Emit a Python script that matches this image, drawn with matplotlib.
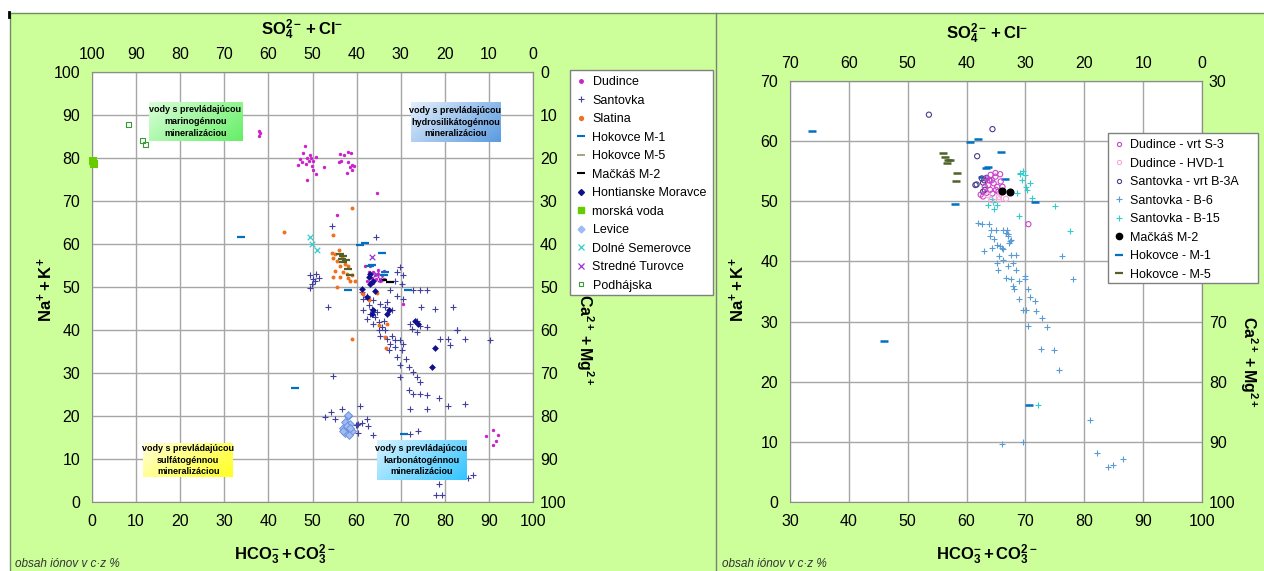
import numpy as np
import matplotlib.pyplot as plt
from matplotlib import font_manager
from matplotlib.colors import LinearSegmentedColormap
from matplotlib.lines import Line2D
from matplotlib.patches import Rectangle

# ---- left diagram: all localities, (HCO3+CO3 %, Na+K %) ----
dudince = [(37.9, 86.3), (38.1, 85.7), (37.9, 85.2), (48.2, 82.9), (47.9, 81.1), (49.4, 80.6),
           (48.7, 80.0), (47.2, 79.8), (46.8, 78.4), (47.6, 79.0), (50.2, 79.4), (50.8, 80.2),
           (49.8, 78.2), (50.0, 77.2), (50.8, 76.2), (48.8, 74.9), (52.5, 78.0), (49.1, 79.4),
           (49.6, 80.0), (48.5, 78.6), (56.2, 81.0), (57.1, 80.6), (58.1, 81.4), (58.7, 81.2),
           (55.9, 79.0), (56.4, 79.4), (58.1, 79.0), (58.9, 78.4), (58.5, 77.9), (59.3, 78.2),
           (57.9, 76.6), (58.9, 77.1), (64.7, 71.8), (55.5, 66.7),
           (61.9, 54.8), (63.0, 55.0), (62.7, 53.4), (63.8, 53.4), (64.9, 53.0), (65.7, 52.7),
           (64.5, 51.9), (63.4, 52.1), (62.3, 51.5), (65.3, 51.5), (63.8, 50.9), (66.1, 53.8),
           (64.2, 52.7), (63.0, 51.1), (64.9, 54.0), (66.3, 51.9), (70.6, 46.1),
           (89.3, 15.4), (90.9, 16.7), (92.0, 15.6), (91.6, 14.2), (91.0, 13.2)]
santovka = [(69.8, 54.6), (69.1, 53.4), (70.6, 52.7), (68.7, 51.5), (70.2, 50.7), (72.9, 49.2),
            (74.4, 49.2), (75.9, 49.2), (67.6, 49.2), (69.1, 48.0), (70.6, 47.3), (66.9, 46.5),
            (65.4, 46.1), (66.5, 45.3), (68.0, 44.6), (63.8, 46.9), (62.3, 48.0), (61.2, 48.8),
            (61.5, 47.3), (62.7, 45.7), (61.5, 44.6), (63.0, 43.8), (64.2, 43.0), (62.3, 42.6),
            (65.0, 41.8), (65.7, 40.7), (66.5, 39.9), (65.4, 38.7), (66.9, 38.0), (67.6, 36.8),
            (68.7, 36.0), (69.8, 37.6), (70.2, 35.3), (69.1, 33.7), (71.3, 33.3), (69.8, 31.8),
            (71.8, 31.4), (72.9, 30.2), (73.6, 29.1), (71.8, 26.0), (72.9, 25.2), (74.4, 25.2),
            (75.9, 24.8), (78.6, 24.1), (72.1, 21.7), (75.9, 21.7), (80.8, 22.4), (84.5, 22.8),
            (72.1, 41.4), (73.6, 42.2), (74.4, 41.0), (75.9, 40.6), (72.5, 40.2), (73.6, 39.5),
            (74.7, 45.3), (77.8, 44.9), (81.9, 45.3), (82.7, 40.0), (78.9, 38.0), (80.8, 38.0),
            (84.5, 38.0), (81.2, 36.4), (53.6, 45.3), (54.7, 29.3), (63.4, 44.9), (64.6, 44.1),
            (63.8, 41.4), (66.1, 42.2), (65.0, 39.9), (68.0, 38.7), (68.7, 37.6), (70.6, 36.8),
            (67.3, 35.3), (74.4, 27.9), (69.8, 29.1), (49.4, 52.7), (50.2, 51.9), (49.8, 50.7),
            (50.9, 53.0), (49.4, 49.8), (50.6, 51.5), (51.5, 52.2), (54.5, 64.2), (64.5, 61.7),
            (90.3, 37.7), (82.8, 40.0), (54.3, 21.0), (52.8, 19.8), (56.8, 21.7), (60.7, 22.3),
            (62.3, 19.4), (62.5, 17.6), (60.1, 18.0), (61.2, 18.4), (74.0, 16.4), (72.2, 15.8),
            (78.7, 4.3), (78.1, 1.6), (79.4, 1.6), (86.5, 6.3), (85.3, 5.6), (59.9, 17.9),
            (60.4, 18.1), (63.8, 15.5), (55.1, 19.4), (60.4, 16.1)]
slatina = [(54.4, 57.9), (55.1, 57.7), (55.9, 58.6), (54.7, 56.8), (55.5, 56.1), (56.6, 56.9),
           (57.4, 55.4), (58.1, 55.0), (56.2, 54.8), (55.1, 53.8), (57.0, 53.4), (58.9, 52.7),
           (58.1, 52.1), (56.2, 52.3), (54.7, 52.3), (55.5, 50.0), (59.6, 51.3), (58.5, 51.5),
           (57.8, 53.1), (58.9, 68.4), (43.5, 62.9), (54.7, 62.1), (61.3, 48.6), (62.7, 47.1),
           (66.8, 41.3), (66.5, 38.4), (58.9, 38.0), (64.7, 48.7), (65.1, 41.1), (66.6, 35.9),
           (62.9, 46.9), (61.5, 48.4)]
hokovce_m1 = [(33.8, 61.7), (60.8, 59.8), (61.9, 60.3), (65.8, 57.9), (63.6, 55.2), (66.4, 53.4),
              (58.1, 49.2), (71.7, 49.3), (46.0, 26.6), (70.7, 15.9), (63.0, 55.0), (66.3, 52.9)]
hokovce_m5 = [(56.2, 57.7), (56.6, 56.5), (57.0, 55.8), (58.1, 54.2), (58.5, 52.7), (57.5, 56.2),
              (56.9, 57.2)]
mackas_m2 = [(66.0, 51.6), (67.5, 51.2)]
hont_moravce = [(77.8, 35.7), (77.0, 31.3), (63.0, 53.1), (62.7, 52.4), (63.8, 51.5), (63.0, 50.8),
                (62.3, 47.7), (63.8, 44.6), (63.4, 43.8), (67.3, 44.6), (66.9, 43.8), (73.2, 42.2),
                (74.0, 41.4), (61.2, 49.6), (64.2, 49.0)]
morska_voda = [(0.3, 79.2), (0.5, 78.5)]
levice = [(58.0, 20.0), (57.4, 18.6), (58.4, 18.1), (57.0, 17.2), (57.9, 16.9), (58.9, 16.4),
          (57.4, 16.0), (58.2, 15.6), (56.9, 16.4), (57.8, 17.6), (58.6, 17.3), (58.1, 20.3)]
dolne_semerovce = [(49.4, 61.6), (49.8, 59.9), (51.0, 58.5)]
stredne_turovce = [(63.6, 56.9), (64.5, 53.0), (65.4, 51.8)]
podhajska = [(8.2, 87.7), (11.5, 84.0), (12.2, 83.2)]

# ---- right diagram: Dudince, Santovka, Mačkáš, Hokovce wells ----
dud_s3 = [(63.4, 53.8), (64.3, 53.5), (64.9, 54.1), (65.7, 54.5), (64.6, 53.0), (63.7, 52.7),
          (65.2, 52.4), (64.0, 51.9), (63.4, 51.4), (62.4, 51.1), (64.4, 51.3), (65.4, 51.6),
          (65.8, 53.3), (64.9, 54.7), (64.1, 54.4), (63.1, 52.4), (65.0, 51.9), (66.1, 52.4),
          (63.8, 53.5), (62.8, 50.8), (70.5, 46.2)]
dud_hvd1 = [(65.5, 50.7), (64.2, 50.2), (65.8, 51.3), (66.7, 50.4), (65.5, 50.3), (63.6, 51.0)]
sant_b3a = [(53.6, 64.4), (64.4, 62.0), (61.8, 57.5), (61.5, 52.7), (62.6, 53.8), (63.0, 53.5),
            (63.4, 53.9), (62.8, 53.1), (61.7, 52.8), (63.1, 51.9), (62.8, 51.6), (63.9, 53.5)]
sant_b6 = [(61.9, 46.4), (62.6, 46.2), (63.8, 46.3), (64.2, 45.2), (65.0, 45.2), (66.2, 45.3),
           (66.9, 45.3), (67.0, 44.5), (67.6, 43.6), (67.2, 43.1), (64.7, 43.7), (63.9, 44.2),
           (65.1, 42.8), (64.4, 42.2), (63.0, 41.7), (65.6, 42.5), (66.2, 42.0), (67.6, 41.1),
           (68.4, 41.1), (65.5, 40.9), (65.1, 39.8), (66.2, 40.3), (67.0, 39.2), (67.9, 39.8),
           (68.4, 38.6), (65.3, 38.6), (66.7, 37.3), (67.6, 37.0), (68.9, 36.7), (67.9, 35.9),
           (68.0, 35.4), (69.9, 37.5), (69.9, 37.0), (70.4, 35.4), (68.9, 33.8), (70.7, 34.1),
           (71.7, 33.5), (69.6, 32.0), (70.1, 32.0), (71.8, 31.7), (72.9, 30.6), (70.4, 29.3),
           (73.7, 29.1), (72.7, 25.5), (74.8, 25.2), (75.7, 21.9), (80.9, 13.7), (82.2, 8.2),
           (84.0, 5.8), (84.9, 6.2), (86.6, 7.1), (66.1, 9.6), (69.6, 10.0), (76.2, 40.9),
           (78.1, 37.1), (66.7, 44.7), (66.1, 42.2), (67.3, 43.4), (67.0, 44.2)]
sant_b15 = [(69.6, 55.1), (69.1, 54.6), (69.9, 54.3), (69.5, 53.6), (70.7, 53.1), (70.1, 52.4),
            (70.3, 51.9), (68.5, 51.3), (71.2, 50.5), (63.7, 49.4), (64.5, 49.9), (65.2, 49.4),
            (64.7, 48.7), (64.3, 50.3), (68.9, 47.5), (75.1, 49.2), (77.6, 45.1), (72.2, 16.1),
            (69.1, 54.7)]
mackas_r = [(66.0, 51.7), (67.4, 51.6)]
hok_m1_r = [(33.8, 61.7), (60.6, 59.9), (61.9, 60.4), (65.8, 58.2), (63.3, 55.6), (63.7, 55.7),
            (62.7, 54.0), (66.5, 53.7), (58.1, 49.6), (71.6, 49.8), (46.0, 26.7), (70.6, 16.2)]
hok_m5_r = [(56.0, 58.0), (56.3, 57.4), (56.8, 56.9), (57.2, 56.8), (56.6, 56.3), (58.3, 54.7),
            (58.2, 53.3)]

# Ca+Mg labels of the right diagram that sit under its legend
right_hidden = [40, 50, 60]

W, H = 1264, 571
GREEN_BG = '#CCFF99'
names = {f.name for f in font_manager.fontManager.ttflist}
NARROW = 'Liberation Sans Narrow' if 'Liberation Sans Narrow' in names else 'Liberation Sans'
TICK_SIZE = 13 if NARROW == 'Liberation Sans Narrow' else 11.5
BOX_SIZE = 7.5 if NARROW == 'Liberation Sans Narrow' else 6.5

plt.rcParams['font.family'] = ['Liberation Sans', 'DejaVu Sans']
plt.rcParams['mathtext.fontset'] = 'custom'
plt.rcParams['mathtext.rm'] = 'Liberation Sans'
plt.rcParams['mathtext.bf'] = 'Liberation Sans:bold'
plt.rcParams['mathtext.it'] = 'Liberation Sans:italic'


def fpos(px, py):
    return px / W, 1 - py / H


def make_axes(fig, box, xlim, ylim, hide_right=()):
    left, top, right, bottom = box
    ax = fig.add_axes([left / W, 1 - bottom / H, (right - left) / W, (bottom - top) / H])
    ax.set_facecolor('white')
    ax.set_xticks(np.arange(xlim[0], xlim[1] + 1, 10))
    ax.set_yticks(np.arange(ylim[0], ylim[1] + 1, 10))
    ax.grid(True, color='#A6A6A6', lw=1)
    ax.set_axisbelow(True)
    for s in ax.spines.values():
        s.set_color('#8C8C8C')
    ax.tick_params(length=0, labelsize=TICK_SIZE, labelfontfamily=NARROW)
    ax.tick_params(axis='x', pad=9)
    ax.tick_params(axis='y', pad=8.5)
    flip = (lambda v: 100 - v, lambda v: 100 - v)
    top_ax = ax.secondary_xaxis('top', functions=flip)
    top_ax.set_xticks(np.arange(100 - xlim[1], 100 - xlim[0] + 1, 10))
    top_ax.tick_params(length=0, labelsize=TICK_SIZE, labelfontfamily=NARROW, pad=7.5)
    right_ax = ax.secondary_yaxis('right', functions=flip)
    rticks = np.arange(100 - ylim[1], 100 - ylim[0] + 1, 10)
    right_ax.set_yticks(rticks, ['' if t in hide_right else str(t) for t in rticks])
    right_ax.tick_params(length=0, labelsize=TICK_SIZE, labelfontfamily=NARROW, pad=5)
    for sec in (top_ax, right_ax):
        for s in sec.spines.values():
            s.set_color('#8C8C8C')
    return ax


def pts(ax, data, **kw):
    x, y = np.array(data).T
    ax.scatter(x, y, zorder=3, **kw)


def note_box(ax, x0, x1, y0, y1, c0, c1, text):
    cmap = LinearSegmentedColormap.from_list('box', [c0, c1])
    gx, gy = np.meshgrid(np.linspace(0, 1, 80), np.linspace(0, 1, 40))
    ax.imshow(0.65 * gx + 0.35 * gy, extent=[x0, x1, y0, y1], origin='upper', cmap=cmap,
              aspect='auto', zorder=4, interpolation='bilinear')
    ax.text((x0 + x1) / 2, (y0 + y1) / 2, text, ha='center', va='center', fontsize=BOX_SIZE,
            fontweight='bold', family=NARROW, linespacing=1.4, zorder=5)


def axis_titles(fig, top, bottom, left, right, size=12):
    so4 = r'$\mathbf{SO_4^{2-}+Cl^{-}}$'
    hco3 = r'$\mathbf{HCO_3^{-}+CO_3^{2-}}$'
    nak = r'$\mathbf{Na^{+}+K^{+}}$'
    camg = r'$\mathbf{Ca^{2+}+Mg^{2+}}$'
    fig.text(*fpos(*top), so4, ha='center', va='center', fontsize=size)
    fig.text(*fpos(*bottom), hco3, ha='center', va='center', fontsize=size)
    fig.text(*fpos(*left), nak, ha='center', va='center', fontsize=size, rotation=90)
    fig.text(*fpos(*right), camg, ha='center', va='center', fontsize=size - 0.5, rotation=270)


def legend(fig, handles, box):
    left, top, right, bottom = box
    fig.patches.append(Rectangle(fpos(left, bottom), (right - left) / W, (bottom - top) / H,
                                 transform=fig.transFigure, facecolor='white',
                                 edgecolor='#808080', lw=1, zorder=4))
    return fig.legend(handles=handles, loc='upper left', bbox_to_anchor=fpos(left, top),
                      frameon=False, fontsize=9, labelspacing=0.52, handlelength=0.8,
                      handletextpad=0.5, borderpad=0.5, borderaxespad=0)


def h(label, marker, color, ms=4, mfc=None, mew=1.0):
    return Line2D([], [], ls='none', marker=marker, color=color, ms=ms,
                  mfc=color if mfc is None else mfc, mew=mew, label=label)


fig = plt.figure(figsize=(W / 100, H / 100), dpi=100, facecolor=GREEN_BG)
fig.patches.append(Rectangle((0, 1 - 13 / H), 1, 13 / H, transform=fig.transFigure,
                             facecolor='white', edgecolor='none', zorder=-2))
fig.patches.append(Rectangle((0, 0), 10 / W, 1, transform=fig.transFigure,
                             facecolor='white', edgecolor='none', zorder=-2))
fig.lines.append(Line2D([10 / W, 1], [1 - 13 / H, 1 - 13 / H], transform=fig.transFigure,
                        color='#6F8F5F', lw=1))
fig.lines.append(Line2D([10 / W, 10 / W], [0, 1 - 13 / H], transform=fig.transFigure,
                        color='#6F8F5F', lw=1))
fig.lines.append(Line2D([716 / W, 716 / W], [0, 1 - 13 / H], transform=fig.transFigure,
                        color='#7F7F7F', lw=1))
fig.lines.append(Line2D([9 / W, 9 / W], [1 - 12 / H, 1 - 17 / H], transform=fig.transFigure,
                        color='black', lw=2))

# left diagram
ax1 = make_axes(fig, (92, 72, 533, 502), (0, 100), (0, 100))
pts(ax1, podhajska, marker='s', s=14, facecolors='none', edgecolors='#3A9A3A', lw=0.8)
pts(ax1, santovka, marker='+', s=14, c='#3F3F9F', lw=0.8)
pts(ax1, dudince, marker='o', s=6, c='#CC22CC', lw=0)
pts(ax1, slatina, marker='o', s=8, c='#F07020', lw=0)
pts(ax1, levice, marker='D', s=16, facecolors='#9DBBF5', edgecolors='#6A8DDA', lw=0.6)
pts(ax1, hont_moravce, marker='D', s=12, c='#10108F', lw=0)
pts(ax1, hokovce_m1, marker='_', s=40, c='#0070C0', lw=1.6)
pts(ax1, hokovce_m5, marker='_', s=40, c='#4F6228', lw=1.6)
pts(ax1, mackas_m2, marker='_', s=40, c='black', lw=1.6)
pts(ax1, dolne_semerovce, marker='x', s=16, c='#33CCCC', lw=0.9)
pts(ax1, stredne_turovce, marker='x', s=16, c='#9933CC', lw=0.9)
mx, my = np.array(morska_voda).T
ax1.scatter(mx, my, marker='s', s=26, c='#66CC00', lw=0, zorder=3, clip_on=False)

note_box(ax1, 12.9, 34.0, 84.0, 93.0, '#D9FFD9', '#66EE66',
         'vody s prevládajúcou\nmarinogénnou\nmineralizáciou')
note_box(ax1, 72.3, 92.5, 83.7, 93.0, '#E3EEFB', '#5B9BE0',
         'vody s prevládajúcou\nhydrosilikátogénnou\nmineralizáciou')
note_box(ax1, 11.6, 32.0, 5.8, 13.7, '#FFFFD6', '#FFFF22',
         'vody s prevládajúcou\nsulfátogénnou\nmineralizáciou')
note_box(ax1, 64.6, 84.8, 5.1, 14.4, '#D6F2FF', '#33C4FF',
         'vody s prevládajúcou\nkarbonátogénnou\nmineralizáciou')
ax1.set_xlim(0, 100)
ax1.set_ylim(0, 100)

axis_titles(fig, (302, 30), (285, 555), (45, 290), (585, 340))
fig.text(*fpos(15, 564), 'obsah iónov v c·z %', ha='left', va='center', fontsize=8.5,
         style='italic', color='#333333')

legend(fig, [h('Dudince', 'o', '#CC22CC', ms=2.5),
             h('Santovka', '+', '#3F3F9F', ms=4, mew=0.8),
             h('Slatina', 'o', '#F07020', ms=2.8),
             h('Hokovce M-1', '_', '#0070C0', ms=6, mew=1.5),
             h('Hokovce M-5', '_', '#8A9A70', ms=6, mew=1.2),
             h('Mačkáš M-2', '_', 'black', ms=6, mew=1.5),
             h('Hontianske Moravce', 'D', '#10108F', ms=3),
             h('morská voda', 's', '#66CC00', ms=4),
             h('Levice', 'D', '#9DBBF5', ms=3.5),
             h('Dolné Semerovce', 'x', '#33CCCC', ms=4, mew=0.9),
             h('Stredné Turovce', 'x', '#9933CC', ms=4, mew=0.9),
             h('Podhájska', 's', '#3A9A3A', ms=3.5, mfc='none', mew=0.8)],
       (570, 70, 713, 295))

# right diagram
ax2 = make_axes(fig, (790, 81, 1202, 502), (30, 100), (0, 70), hide_right=right_hidden)
pts(ax2, sant_b6, marker='+', s=24, c='#5B9BD5', lw=0.8)
pts(ax2, sant_b15, marker='+', s=24, c='#33CCCC', lw=0.8)
pts(ax2, hok_m1_r, marker='_', s=36, c='#0070C0', lw=1.8)
pts(ax2, hok_m5_r, marker='_', s=36, c='#4F6228', lw=1.8)
pts(ax2, sant_b3a, marker='o', s=14, facecolors='none', edgecolors='#4B3C8C', lw=0.8)
pts(ax2, dud_s3, marker='o', s=14, facecolors='none', edgecolors='#CC44CC', lw=0.8)
pts(ax2, dud_hvd1, marker='o', s=14, facecolors='none', edgecolors='#F5A8D8', lw=0.8)
pts(ax2, mackas_r, marker='o', s=34, c='black', lw=0)
ax2.set_xlim(30, 100)
ax2.set_ylim(0, 70)

axis_titles(fig, (987, 34), (987, 555), (737, 290), (1249, 362))
fig.text(*fpos(722, 564), 'obsah iónov v c·z %', ha='left', va='center', fontsize=8.5,
         style='italic', color='#333333')

legend(fig, [h('Dudince - vrt S-3', 'o', '#CC44CC', ms=3, mfc='none', mew=0.8),
             h('Dudince - HVD-1', 'o', '#F5A8D8', ms=3, mfc='none', mew=0.8),
             h('Santovka - vrt B-3A', 'o', '#4B3C8C', ms=3, mfc='none', mew=0.8),
             h('Santovka - B-6', '+', '#5B9BD5', ms=4.5, mew=0.8),
             h('Santovka - B-15', '+', '#33CCCC', ms=4.5, mew=0.8),
             h('Mačkáš M-2', 'o', 'black', ms=4.5),
             h('Hokovce - M-1', '_', '#0070C0', ms=6, mew=1.6),
             h('Hokovce - M-5', '_', '#4F6228', ms=6, mew=1.6)],
       (1108, 133, 1258, 283))

fig.savefig('out.png', dpi=100, facecolor=fig.get_facecolor())
